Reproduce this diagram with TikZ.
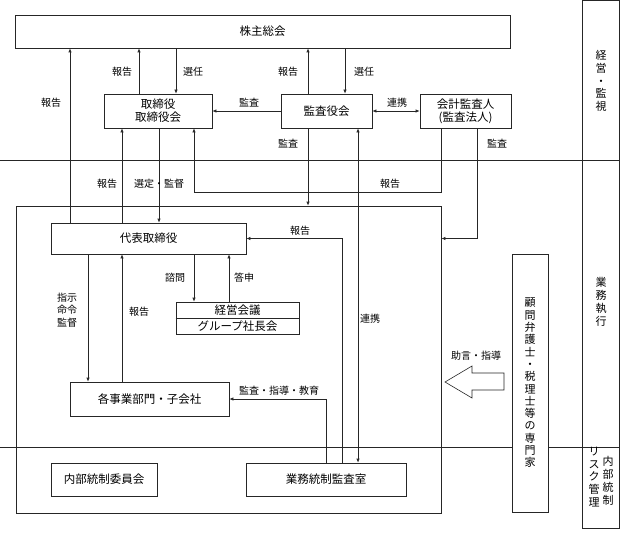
\documentclass[tikz,border=0pt]{standalone}
\usepackage{fontspec}
\newfontfamily\jp{Noto Sans CJK JP}
\usetikzlibrary{arrows.meta,calc}
\definecolor{ln}{gray}{0.15}
\begin{document}
\begin{tikzpicture}[x=1pt,y=-1pt,
  box/.style={draw=ln, fill=white, line width=0.6pt, inner sep=0pt, align=center,
    font=\jp\fontsize{11.5}{13}\selectfont},
  lbl/.style={inner sep=0pt, font=\jp\fontsize{10}{12}\selectfont, align=center},
  vtxt/.style={inner sep=0pt, align=center, font=\jp\fontsize{11}{12.8}\selectfont},
  arr/.style={draw=ln, line width=0.6pt, -{Latex[length=4pt,width=3.2pt]}},
  darr/.style={draw=ln, line width=0.6pt, {Latex[length=4pt,width=3.2pt]}-{Latex[length=4pt,width=3.2pt]}},
  plain/.style={draw=ln, line width=0.6pt}]
\useasboundingbox (0,0) rectangle (620,532);

% section lines and side panel
\draw[plain] (0,160) -- (620,160);
\draw[plain] (0,447) -- (620,447);
\draw[plain] (582,0.5) rectangle (619,528);
\node[vtxt] (p1) at (601,81) {経\\営\\・\\監\\視};
\node[vtxt] (p2) at (601,302) {業\\務\\執\\行};
\node[vtxt] (p3) at (608,481) {内\\部\\統\\制};
\node[vtxt] (p4) at (594,477) {リ\\ス\\ク\\管\\理};

% outer frame
\node[draw=ln, line width=0.6pt, inner sep=0pt, minimum width=425pt, minimum height=307pt] (frame) at (228.5,359.5) {};

% boxes
\node[box, minimum width=495pt, minimum height=33pt] (sh) at (262.5,31.5) {株主総会};
\node[box, minimum width=108pt, minimum height=34pt] (tor) at (158,111) {取締役\\取締役会};
\node[box, minimum width=91pt, minimum height=34pt] (kan) at (326.5,111) {監査役会};
\node[box, minimum width=91pt, minimum height=34pt] (kai) at (465.5,111) {会計監査人\\(監査法人)};
\node[box, minimum width=195pt, minimum height=31pt] (dai) at (148.5,238.5) {代表取締役};
\node[box, minimum width=123pt, minimum height=32pt, font=\jp\fontsize{11.5}{16}\selectfont] (kei) at (237.5,318) {経営会議\\グループ社長会};
\draw[plain] (kei.west) -- (kei.east);
\node[box, minimum width=159pt, minimum height=34pt] (jig) at (149.5,399) {各事業部門・子会社};
\node[box, minimum width=106pt, minimum height=33pt] (nai) at (104,479.5) {内部統制委員会};
\node[box, minimum width=160pt, minimum height=33pt] (gyo) at (326,479.5) {業務統制監査室};
\node[box, minimum width=36pt, minimum height=258pt, font=\jp\fontsize{11}{12.3}\selectfont] (exp) at (530,383)
  {顧\\問\\弁\\護\\士\\・\\税\\理\\士\\等\\の\\専\\門\\家};

% connectors top region
\draw[arr] (dai.north -| 70,0) -- (sh.south -| 70,0);
\node[lbl] at (51,103) {報告};
\draw[arr] (tor.north -| 139,0) -- (sh.south -| 139,0);
\node[lbl] at (122,72) {報告};
\draw[arr] (sh.south -| 176,0) -- (tor.north -| 176,0);
\node[lbl] at (193,72) {選任};
\draw[arr] (kan.north -| 308,0) -- (sh.south -| 308,0);
\node[lbl] at (288,72) {報告};
\draw[arr] (sh.south -| 345,0) -- (kan.north -| 345,0);
\node[lbl] at (364,72) {選任};
\draw[arr] (kan.west) -- (tor.east);
\node[lbl] at (249,103) {監査};
\draw[darr] (kan.east) -- (kai.west);
\node[lbl] at (397,103) {連携};
\draw[arr] (kan.south -| 308,0) -- (frame.north -| 308,0);
\node[lbl] at (288,144) {監査};
\draw[darr] (kan.south -| 358,0) -- (gyo.north -| 358,0);
\node[lbl] at (370,319) {連携};
\draw[arr] (kai.south -| 441,0) -- (441,192) -- (194,192) -- (tor.south -| 194,0);
\node[lbl] at (390,184) {報告};
\draw[arr] (kai.south -| 477,0) |- (frame.east |- dai.east);
\node[lbl] at (497,144) {監査};
\draw[arr] (dai.north -| 122,0) -- (tor.south -| 122,0);
\node[lbl] at (107,184) {報告};
\draw[arr] (tor.south -| 159,0) -- (dai.north -| 159,0);
\node[lbl] at (159,184) {選定・監督};

% connectors execution region
\draw[arr] (gyo.north -| 342,0) |- (dai.east);
\node[lbl] at (300,231) {報告};
\draw[arr] (dai.south -| 194,0) -- (kei.north -| 194,0);
\node[lbl] at (175,278) {諮問};
\draw[arr] (kei.north -| 229,0) -- (dai.south -| 229,0);
\node[lbl] at (244,278) {答申};
\draw[arr] (dai.south -| 88,0) -- (jig.north -| 88,0);
\node[lbl, font=\jp\fontsize{10}{12.5}\selectfont] at (67,310) {指示\\命令\\監督};
\draw[arr] (jig.north -| 122,0) -- (dai.south -| 122,0);
\node[lbl] at (139,312) {報告};
\draw[arr] (gyo.north -| 326,0) |- (jig.east);
\node[lbl] at (279,391) {監査・指導・教育};

% hollow arrow
\draw[draw=ln, line width=0.6pt, fill=white] (445,382) -- (472,366) -- (472,373) -- (504,373) -- (504,390) -- (472,390) -- (472,398) -- cycle;
\node[lbl] at (476,356) {助言・指導};
\end{tikzpicture}
\end{document}
